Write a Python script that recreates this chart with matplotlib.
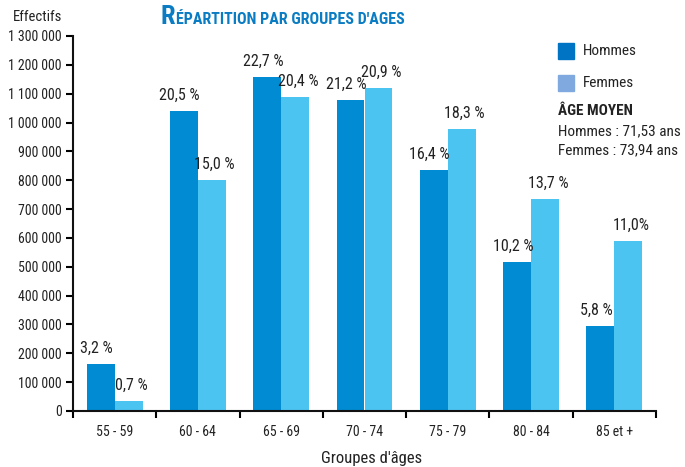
import matplotlib
matplotlib.use("Agg")
import numpy as np
import matplotlib.pyplot as plt
from matplotlib.patches import Rectangle
from matplotlib.ticker import FuncFormatter

plt.rcParams['font.family'] = ['Roboto Condensed', 'Liberation Sans', 'DejaVu Sans']

# data
groups = ["55 - 59", "60 - 64", "65 - 69", "70 - 74", "75 - 79", "80 - 84", "85 et +"]
hommes = [163000, 1040000, 1158000, 1078000, 835000, 516000, 295000]
femmes = [35000, 800000, 1088000, 1120000, 977000, 735000, 589000]
pct_hommes = ["3,2 %", "20,5 %", "22,7 %", "21,2 %", "16,4 %", "10,2 %", "5,8 %"]
pct_femmes = ["0,7 %", "15,0 %", "20,4 %", "20,9 %", "18,3 %", "13,7 %", "11,0%"]

c_h = "#008bd2"
c_f = "#4cc4f2"
txt = "#222222"

fig = plt.figure(figsize=(6.85, 4.67), dpi=100)
ax = fig.add_axes([73/685, 1 - 411/467, (656 - 73)/685, (411 - 36)/467])

x = np.arange(len(groups))
w = 0.336
ax.bar(x - w/2, hommes, w, color=c_h, zorder=2)
ax.bar(x + w/2, femmes, w, color=c_f, zorder=2)

for i in range(len(groups)):
    ax.annotate(pct_hommes[i], (x[i] - w/2, hommes[i]), xytext=(-3, 6),
                textcoords="offset points", ha="center", va="bottom",
                fontsize=11.5, color=txt)
    ax.annotate(pct_femmes[i], (x[i] + w/2, femmes[i]), xytext=(2, 6),
                textcoords="offset points", ha="center", va="bottom",
                fontsize=11.5, color=txt)

ax.set_xlim(-0.5, len(groups) - 0.5)
ax.set_ylim(0, 1300000)
ax.set_yticks(np.arange(0, 1300001, 100000))
ax.yaxis.set_major_formatter(FuncFormatter(lambda v, p: f"{int(v):,}".replace(",", " ")))
ax.set_xticks(np.arange(-0.5, len(groups), 1))
ax.set_xticklabels([])
ax.set_xticks(x, minor=True)
ax.set_xticklabels(groups, minor=True)
ax.tick_params(axis="x", which="minor", length=0, pad=10, labelsize=10, labelcolor=txt)
ax.tick_params(axis="x", which="major", direction="out", length=5, width=1.5)
ax.tick_params(axis="y", direction="out", length=5, width=1.5, labelsize=10, labelcolor=txt, pad=3)

for s in ["top", "right"]:
    ax.spines[s].set_visible(False)
for s in ["left", "bottom"]:
    ax.spines[s].set_linewidth(1.5)
    ax.spines[s].set_color("#111111")

fig.text(38/685, 1 - 17/467, "Effectifs", ha="center", va="center", fontsize=10.5, color=txt)
fig.text(372/685, 1 - 458/467, "Groupes d'âges", ha="center", va="center", fontsize=12, color=txt)

# title with a larger first letter
title_color = "#0a7cc3"
t1 = fig.text(161/685, 1 - 24/467, "R", fontsize=19, fontweight="bold", color=title_color,
              ha="left", va="baseline")
fig.canvas.draw()
bb = t1.get_window_extent()
fig.text(bb.x1 / fig.bbox.width, 1 - 24/467, "ÉPARTITION PAR GROUPES D'AGES", fontsize=11.5,
         fontweight="bold", color=title_color, ha="left", va="baseline")

# legend
fig.patches.append(Rectangle((558/685, 1 - 59/467), 16/685, 16/467, transform=fig.transFigure,
                             color="#0074c4", figure=fig))
fig.patches.append(Rectangle((558/685, 1 - 91/467), 16/685, 16/467, transform=fig.transFigure,
                             color="#80aadf", figure=fig))
fig.text(583/685, 1 - 51/467, "Hommes", fontsize=11, color=txt, va="center")
fig.text(583/685, 1 - 83/467, "Femmes", fontsize=11, color=txt, va="center")
fig.text(558/685, 1 - 111/467, "ÂGE MOYEN", fontsize=11, fontweight="bold", color=txt, va="center")
fig.text(558/685, 1 - 131/467, "Hommes : 71,53 ans", fontsize=11, color=txt, va="center")
fig.text(558/685, 1 - 150/467, "Femmes : 73,94 ans", fontsize=11, color=txt, va="center")

fig.savefig("out.png", dpi=100)
